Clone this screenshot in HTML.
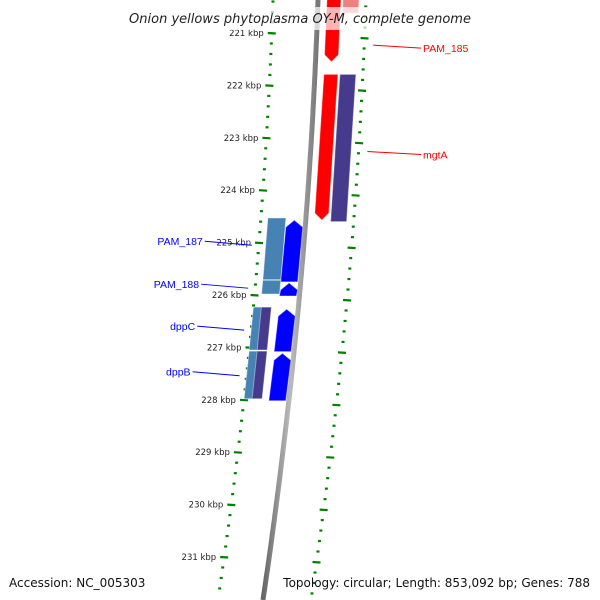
<!DOCTYPE html>
<html><head><meta charset="utf-8">
<style>
html,body{margin:0;padding:0;background:#fff;overflow:hidden;width:600px;height:600px;}
svg{display:block;font-family:"Liberation Sans",sans-serif;}
</style></head>
<body>
<svg id="map" width="600" height="600" viewBox="0 0 600 600" xmlns="http://www.w3.org/2000/svg" overflow="hidden">
<defs>
<linearGradient id="bb" x1="0" x2="1"><stop offset="0" stop-color="#666"/><stop offset="0.5" stop-color="#bbb"/><stop offset="1" stop-color="#777"/></linearGradient>
<clipPath id="frame"><rect x="0" y="0" width="600" height="600"/></clipPath>
</defs>
<g id="layer" clip-path="url(#frame)"></g>
<rect x="0" y="7" width="600" height="23" fill="#fff" fill-opacity="0.7"/>
<text x="300" y="23" text-anchor="middle" font-size="13" font-style="italic" fill="#222" style="font-family:'DejaVu Sans',sans-serif">Onion yellows phytoplasma OY-M, complete genome</text>
<text x="9" y="587" font-size="12" fill="#111" style="font-family:'DejaVu Sans',sans-serif">Accession: NC_005303</text>
<text x="590" y="587" text-anchor="end" font-size="12" fill="#111" style="font-family:'DejaVu Sans',sans-serif">Topology: circular; Length: 853,092 bp; Genes: 788</text>
</svg>
<script>
// data
const tickKbp = [221,222,223,224,225,226,227,228,229,230,231];
const minorStep = 0.2;
const geneNames = ["PAM_185_top","PAM_185_pale","mgtA","mgtA_pair","PAM_187_a","PAM_187","PAM_188_a","PAM_188","dppC_a","dppC_b","dppC","dppB_a","dppB_b","dppB","next"];
const geneStart = [220.3,220.3,221.79,221.79,224.53,224.57,225.72,225.77,226.23,226.23,226.27,227.07,227.07,227.11,232.0];
const geneEnd =   [221.55,220.62,224.57,224.6,225.71,225.75,225.98,226.02,227.05,227.05,227.08,227.98,227.98,228.02,233.0];
const geneLane =  ["r1","r2","r1","r2","l2","l1","l2","l1","l2a","l2b","l1","l2a","l2b","l1","l1"];
const geneColor = ["#ff0000","#f08080","#ff0000","#463a8c","#4682b4","#0000ff","#4682b4","#0000ff","#4682b4","#463a8c","#0000ff","#4682b4","#463a8c","#0000ff","#0000ff"];
const geneDir =   [-1,0,-1,0,0,1,0,1,0,0,1,0,0,1,1];
const labelNames = ["PAM_185","mgtA","PAM_187","PAM_188","dppC","dppB"];
const labelColor = ["#ff0000","#ff0000","#0000ff","#0000ff","#0000ff","#0000ff"];
const labelKbp =   [221.27,223.3,225.05,225.87,226.67,227.54];
const labelSide =  ["r","r","l","l","l","l"];

const yOf = k => 33 + (k-221)*52.4;
const xb = y => 318 - 0.0347*y - 0.000095*y*y;
const laneOff = {r1:[9,23],r2:[25,41],l1:[-20,-3],l2:[-38,-20],l2a:[-45,-34],l2b:[-37,-27]};
const NS="http://www.w3.org/2000/svg";
const L=document.getElementById('layer');
function mk(t,a){const e=document.createElementNS(NS,t);for(const k in a)e.setAttribute(k,a[k]);L.appendChild(e);return e;}

let d="";for(let y=0;y<=600;y+=5){d+=(y==0?"M":"L")+xb(y).toFixed(1)+" "+y;}
const bb=mk('path',{d:d,stroke:'url(#bb)','stroke-width':5,fill:'none'});



for(let k=220;k<=232.01;k+=minorStep){
  const kk=Math.round(k*10)/10;const y=yOf(kk);
  if(y<0||y>598)continue;
  const major=Math.abs(kk-Math.round(kk))<0.01;
  const w=major?8:3;
  const xl=xb(y)-45;
  const t=mk('line',{x1:xl-w/2,y1:y,x2:xl+w/2,y2:y+(major?0.5:0),stroke:'#008000','stroke-width':2.2});
  
  
  const yr=y+5;if(yr>598)continue;const xr=xb(yr)+48;
  const t2=mk('line',{x1:xr-w/2,y1:yr,x2:xr+w/2,y2:yr+(major?0.5:0),stroke:'#008000','stroke-width':2.2});
  
  
}
tickKbp.forEach(k=>{
  const y=yOf(k);
  const tx=mk('text',{x:xb(y)-53,y:y+3,'text-anchor':'end','font-size':8.5,fill:'#222',style:"font-family:'DejaVu Sans',sans-serif"});
  tx.textContent=k+" kbp";
  
  
});

geneNames.forEach((n,i)=>{
  let y1=yOf(geneStart[i]),y2=yOf(geneEnd[i]);
  const o=laneOff[geneLane[i]];
  const a0=xb(y1)+o[0],a1=xb(y1)+o[1],b0=xb(y2)+o[0],b1=xb(y2)+o[1];
  let pts;
  const h=7;
  if(geneDir[i]===1){
    const m=(a0+a1)/2;
    pts=[[m,y1],[a1,y1+h],[b1,y2],[b0,y2],[a0,y1+h]];
  }else if(geneDir[i]===-1){
    const m=(b0+b1)/2;
    pts=[[a0,y1],[a1,y1],[b1,y2-h],[m,y2],[b0,y2-h]];
  }else{
    pts=[[a0,y1],[a1,y1],[b1,y2],[b0,y2]];
  }
  const p=mk('polygon',{points:pts.map(p=>p.map(v=>v.toFixed(1)).join(',')).join(' '),fill:geneColor[i],stroke:'#fff','stroke-opacity':0.4,'stroke-width':1});
  
  
});

labelNames.forEach((n,i)=>{
  const y=yOf(labelKbp[i]);
  if(labelSide[i]==='r'){
    const x1=xb(y)+57;
    const ln=mk('line',{x1:x1,y1:y-2,x2:421,y2:y+1,stroke:labelColor[i],'stroke-width':1});
    
    
    const t=mk('text',{x:423,y:y+5,'font-size':10.5,fill:labelColor[i]});t.textContent=n;
    
    
  }else{
    const x2=xb(y)-52;
    const x1=x2-47;
    const ln=mk('line',{x1:x1,y1:y-4,x2:x2,y2:y,stroke:labelColor[i],'stroke-width':1});
    
    
    const t=mk('text',{x:x1-2,y:y,'text-anchor':'end','font-size':10.5,fill:labelColor[i]});t.textContent=n;
    
    
  }
});
</script>
</body></html>
